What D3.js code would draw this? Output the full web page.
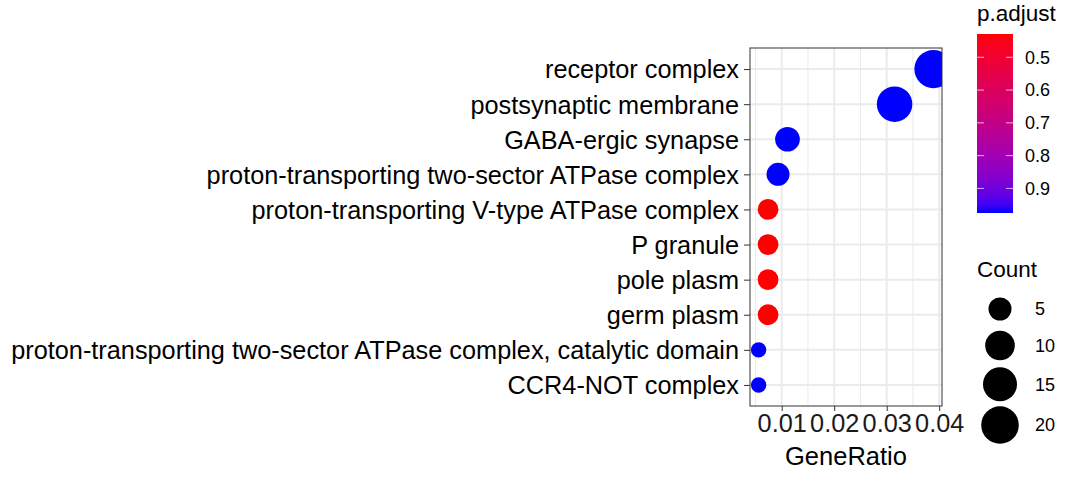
<!DOCTYPE html>
<html>
<head>
<meta charset="utf-8">
<script src="https://cdn.jsdelivr.net/npm/d3@7"></script>
<style>
  html, body { margin: 0; padding: 0; background: #fff; }
  svg { display: block; font-family: "Liberation Sans", Arial, sans-serif; }
</style>
</head>
<body>
<svg id="chart" width="1080" height="480"></svg>
<script>
// ---- data (top to bottom as displayed) ----
const categories = [
  "receptor complex",
  "postsynaptic membrane",
  "GABA-ergic synapse",
  "proton-transporting two-sector ATPase complex",
  "proton-transporting V-type ATPase complex",
  "P granule",
  "pole plasm",
  "germ plasm",
  "proton-transporting two-sector ATPase complex, catalytic domain",
  "CCR4-NOT complex"
];
const geneRatio = [0.0389, 0.0315, 0.0111, 0.0093, 0.0074, 0.0074, 0.0074, 0.0074, 0.0056, 0.0056];
const counts    = [21, 17, 6, 5, 4, 4, 4, 4, 3, 3];
const pAdjust   = [0.975, 0.975, 0.975, 0.975, 0.429, 0.429, 0.429, 0.429, 0.975, 0.975];
const xTicks = [0.01, 0.02, 0.03, 0.04];
const xMinor = [0.005, 0.015, 0.025, 0.035];
const colorTicks = [0.5, 0.6, 0.7, 0.8, 0.9];
const sizeBreaks = [5, 10, 15, 20];

const data = categories.map((c, i) => ({ cat: c, x: geneRatio[i], count: counts[i], p: pAdjust[i] }));

// ---- layout ----
const svg = d3.select("#chart");
const panel = { left: 750, right: 942, top: 48, bottom: 406 };
const FONT = "Liberation Sans, Arial, sans-serif";
const AX = "25.3px";

const x = d3.scaleLinear().domain([0.00396, 0.04053]).range([panel.left, panel.right]);
const y = d3.scalePoint().domain(categories).range([panel.top, panel.bottom]).padding(0.6);

const pMin = 0.429, pMax = 0.975;
const color = d3.scaleLinear().domain([pMin, pMax]).range(["#ff0000", "#0000ff"]).interpolate(d3.interpolateLab);

const cMin = d3.min(counts), cMax = d3.max(counts);
const rMin = 7.7, rMax = 19.1;
const radius = v => rMin + (rMax - rMin) * Math.sqrt(Math.max(0, (v - cMin) / (cMax - cMin)));

// panel background + grid
const g = svg.append("g");
g.append("rect")
  .attr("x", panel.left).attr("y", panel.top)
  .attr("width", panel.right - panel.left).attr("height", panel.bottom - panel.top)
  .attr("fill", "#fff");

g.selectAll("line.minor").data(xMinor).enter().append("line")
  .attr("x1", d => x(d)).attr("x2", d => x(d))
  .attr("y1", panel.top).attr("y2", panel.bottom)
  .attr("stroke", "#ebebeb").attr("stroke-width", 1);

g.selectAll("line.majx").data(xTicks).enter().append("line")
  .attr("x1", d => x(d)).attr("x2", d => x(d))
  .attr("y1", panel.top).attr("y2", panel.bottom)
  .attr("stroke", "#ebebeb").attr("stroke-width", 2);

g.selectAll("line.majy").data(categories).enter().append("line")
  .attr("x1", panel.left).attr("x2", panel.right)
  .attr("y1", d => y(d)).attr("y2", d => y(d))
  .attr("stroke", "#ebebeb").attr("stroke-width", 2);

// clip path for points
const defs = svg.append("defs");
defs.append("clipPath").attr("id", "panelClip")
  .append("rect")
  .attr("x", panel.left).attr("y", panel.top)
  .attr("width", panel.right - panel.left).attr("height", panel.bottom - panel.top);

g.append("g").attr("clip-path", "url(#panelClip)")
  .selectAll("circle").data(data).enter().append("circle")
  .attr("cx", d => x(d.x)).attr("cy", d => y(d.cat))
  .attr("r", d => radius(d.count))
  .attr("fill", d => color(d.p));

// panel border
g.append("rect")
  .attr("x", panel.left).attr("y", panel.top)
  .attr("width", panel.right - panel.left).attr("height", panel.bottom - panel.top)
  .attr("fill", "none").attr("stroke", "#333333").attr("stroke-width", 1);

// axes
const xAxis = d3.axisBottom(x).tickValues(xTicks).tickFormat(d3.format(".2f")).tickSize(5).tickPadding(3);
const gx = svg.append("g").attr("transform", `translate(0,${panel.bottom})`).call(xAxis);
gx.select(".domain").remove();
gx.selectAll(".tick line").attr("stroke", "#333333").attr("stroke-width", 1);
gx.selectAll(".tick text").attr("fill", "#1a1a1a").style("font-size", AX).style("font-family", FONT);

const yAxis = d3.axisLeft(y).tickSize(6).tickPadding(5);
const gy = svg.append("g").attr("transform", `translate(${panel.left},0)`).call(yAxis);
gy.select(".domain").remove();
gy.selectAll(".tick line").attr("stroke", "#333333").attr("stroke-width", 1);
gy.selectAll(".tick text").attr("fill", "#000").style("font-size", AX).style("font-family", FONT).attr("dy", "0.35em");

// x axis title
svg.append("text")
  .attr("x", (panel.left + panel.right) / 2).attr("y", 465)
  .attr("text-anchor", "middle").style("font-size", "25.5px").attr("fill", "#000")
  .text("GeneRatio");

// ---- colour legend ----
const cb = { x: 977, y: 34, w: 36, h: 179 };
svg.append("text").attr("x", cb.x).attr("y", 21).style("font-size", "22.5px").attr("fill", "#000").text("p.adjust");
const grad = defs.append("linearGradient").attr("id", "cbGrad")
  .attr("x1", 0).attr("y1", 0).attr("x2", 0).attr("y2", 1);
d3.range(0, 1.0001, 0.05).forEach(t => {
  grad.append("stop").attr("offset", t).attr("stop-color", color(pMin + t * (pMax - pMin)));
});
svg.append("rect").attr("x", cb.x).attr("y", cb.y).attr("width", cb.w).attr("height", cb.h).attr("fill", "url(#cbGrad)");
const cbScale = d3.scaleLinear().domain([pMin, pMax]).range([cb.y, cb.y + cb.h]);
const cbt = svg.append("g").selectAll("g").data(colorTicks).enter().append("g");
cbt.append("line").attr("x1", cb.x).attr("x2", cb.x + 7).attr("y1", d => cbScale(d)).attr("y2", d => cbScale(d))
  .attr("stroke", "#fff").attr("stroke-opacity", 0.7);
cbt.append("line").attr("x1", cb.x + cb.w - 7).attr("x2", cb.x + cb.w).attr("y1", d => cbScale(d)).attr("y2", d => cbScale(d))
  .attr("stroke", "#fff").attr("stroke-opacity", 0.7);
cbt.append("text").attr("x", 1025).attr("y", d => cbScale(d)).attr("dy", "0.35em")
  .style("font-size", "18px").attr("fill", "#000").text(d => d3.format(".1f")(d));

// ---- size legend ----
svg.append("text").attr("x", cb.x).attr("y", 277).style("font-size", "22.5px").attr("fill", "#000").text("Count");
const sizeY = [309, 345.5, 384.3, 425];
const sl = svg.append("g").selectAll("g").data(sizeBreaks).enter().append("g");
sl.append("circle").attr("cx", 1000).attr("cy", (d, i) => sizeY[i]).attr("r", d => radius(d)).attr("fill", "#000");
sl.append("text").attr("x", 1035).attr("y", (d, i) => sizeY[i]).attr("dy", "0.35em")
  .style("font-size", "18px").attr("fill", "#000").text(d => d);
</script>
</body>
</html>
